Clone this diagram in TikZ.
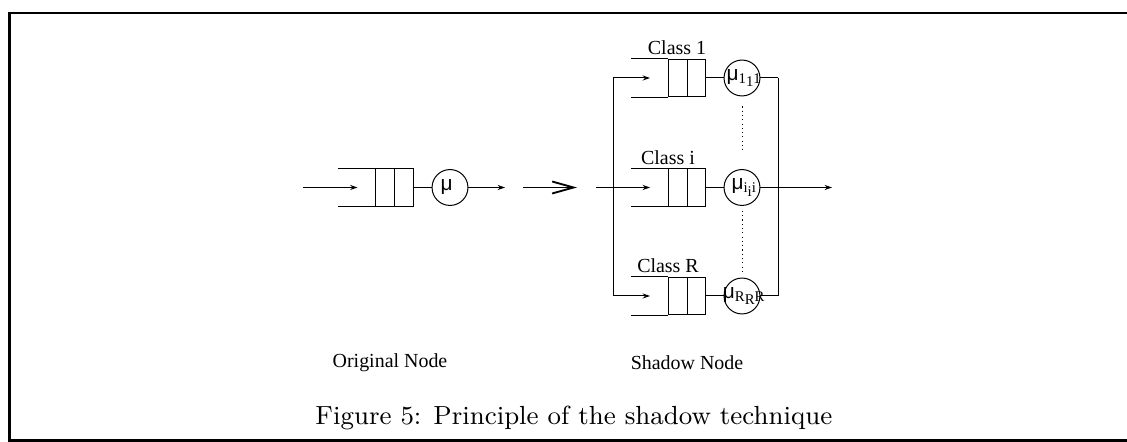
\documentclass[tikz,border=0pt]{standalone}
\usepackage{fontspec}
\usetikzlibrary{arrows.meta,positioning,calc}
\newfontfamily\figfont{Liberation Serif}
\newfontfamily\mufont{Liberation Sans}
\tikzset{>={Stealth[length=2.6pt,width=1.8pt]}}
\tikzstyle{qbox} = [draw, minimum width=13pt, minimum height=13pt, inner sep=0]
\tikzstyle{server} = [draw, circle, minimum size=12.6pt, inner sep=0]
\tikzstyle{lbl} = [font=\figfont\fontsize{7}{8}\selectfont, inner sep=0]
\newcommand{\mulabel}{{\mufont\fontsize{7.3}{8}\selectfont μ}}
\newcommand{\murate}[1]{\mulabel\raisebox{-1.2pt}{\figfont\fontsize{5.2}{6}\selectfont #1\raisebox{-1.2pt}{#1}#1}}

\begin{document}
\begin{tikzpicture}[x=0.351pt, y=-0.351pt, line width=0.35pt]
    % Styles for the frame, the dotted link and the big arrow
    \tikzstyle{frame} = [line width=1pt]
    \tikzstyle{dots} = [dash pattern=on 0.4pt off 1.1pt]
    \tikzstyle{bigarrow} = [line width=0.65pt, -{Straight Barb[length=7.5pt,width=4.2pt]}]

    \useasboundingbox (0,0) rectangle (1127,442);
    \draw[frame] (1140,13) -- (9.5,13) -- (9.5,440.5) -- (1140,440.5);

    % Original node: one queue, one server
    \node[qbox] (q0) at (394.5,187.5) {};
    \draw (q0.north) -- (q0.south);
    \draw (q0.north west) -- ++(-37,0) (q0.south west) -- ++(-37,0);
    \node[server, label={[xshift=-1.2pt]center:\mulabel}] (s0) at (450,187.5) {};
    \coordinate (in0) at (303,187.5);
    \coordinate (a0) at ($(q0.west)+(-18,0)$);
    \coordinate (out0) at (505,187.5);
    \draw[->] (in0) -- (a0);
    \draw (q0) -- (s0);
    \draw[->] (s0) -- (out0);

    % Transformation arrow
    \coordinate (t0) at (523,187.5);
    \coordinate (t1) at (577,187.5);
    \draw[bigarrow] (t0) -- (t1);

    % Shadow node: one queue and one server per class
    \coordinate (in1) at (596,187.5);
    \coordinate (out1) at (832,187.5);
    \foreach \n/\y/\dx in {1/78/-10, i/187.5/-19, R/296/-19} {
        \node[qbox] (q\n) at (687,\y) {};
        \draw (q\n.north) -- (q\n.south);
        \draw (q\n.north west) -- ++(-37,0) (q\n.south west) -- ++(-37,0);
        \node[server, label={[xshift=0.6pt]center:\murate{\n}}] (s\n) at (742,\y) {};
        \coordinate (l\n) at (613,\y);
        \coordinate (r\n) at (778,\y);
        \coordinate (a\n) at ($(q\n.west)+(-18,0)$);
        \draw[->] (l\n) -- (a\n);
        \draw (q\n) -- (s\n);
        \draw (s\n) -- (r\n);
        \node[lbl, anchor=base] (c\n) at ($(q\n.north)+(\dx,-4)$) {Class \n};
    }
    \draw (l1) -- (lR);
    \draw (r1) -- (rR);
    \draw (in1) -- (li);
    \draw[->] (si) -- (out1);
    \draw[dots] ($(s1.south)+(0,10)$) -- ($(si.north)+(0,-16)$);
    \draw[dots] ($(si.south)+(0,5)$) -- ($(sR.north)+(0,-6)$);

    % Titles and caption
    \node[lbl] (orig) at (390,363) {Original Node};
    \node[lbl] (shadow) at (687,363) {Shadow Node};
    \node[font=\fontsize{9.2}{11}\selectfont, inner sep=0, anchor=base west] (cap) at (315,425) {Figure 5: Principle of the shadow technique};
\end{tikzpicture}
\end{document}
